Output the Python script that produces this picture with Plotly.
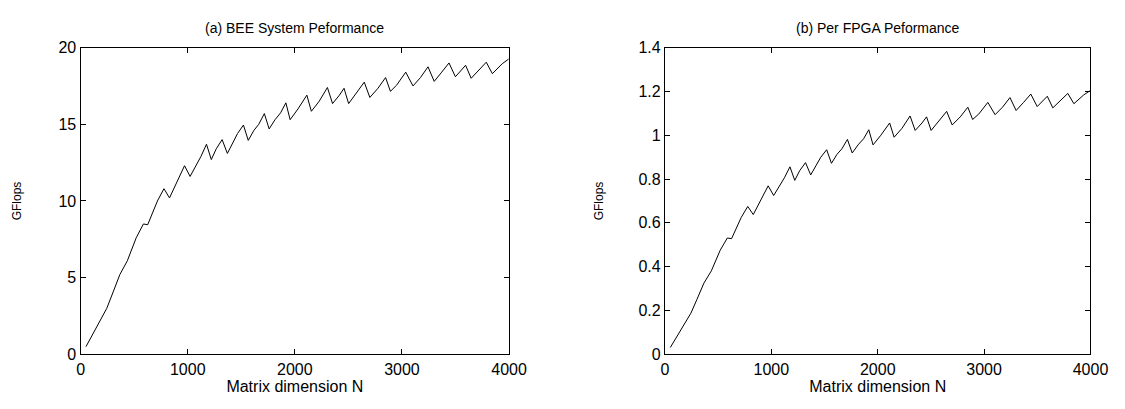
import plotly.graph_objects as go

N = [50, 110, 174, 244, 300, 366, 436, 480, 519, 586, 626, 717, 778, 830, 900, 970,
     1022, 1075, 1123, 1175, 1220, 1266, 1321, 1370, 1420, 1465, 1520, 1565, 1617,
     1663, 1715, 1760, 1815, 1867, 1916, 1956, 2029, 2112, 2154, 2227, 2304, 2352,
     2416, 2459, 2502, 2578, 2648, 2700, 2776, 2847, 2892, 2950, 3035, 3103, 3173,
     3243, 3301, 3371, 3439, 3499, 3594, 3646, 3716, 3787, 3844, 3936, 3995]

bee_gflops = [0.5, 1.3, 2.1, 3.0, 4.0, 5.2, 6.1, 6.9, 7.6, 8.5, 8.45, 10.0, 10.8, 10.2,
              11.3, 12.3, 11.6, 12.3, 12.9, 13.7, 12.7, 13.4, 14.0, 13.1, 13.8, 14.4,
              14.95, 13.95, 14.6, 15.0, 15.7, 14.7, 15.3, 15.75, 16.4, 15.3, 16.0, 16.9,
              15.85, 16.5, 17.4, 16.35, 16.9, 17.35, 16.35, 17.1, 17.75, 16.75, 17.35,
              18.05, 17.15, 17.55, 18.4, 17.5, 18.05, 18.75, 17.8, 18.4, 19.0, 18.1,
              18.85, 18.0, 18.5, 19.05, 18.3, 18.95, 19.25]

fpga_gflops = [0.031, 0.081, 0.131, 0.188, 0.25, 0.325, 0.381, 0.431, 0.475, 0.531,
               0.528, 0.625, 0.675, 0.638, 0.706, 0.769, 0.725, 0.769, 0.806, 0.856,
               0.794, 0.838, 0.875, 0.819, 0.863, 0.9, 0.934, 0.872, 0.913, 0.938,
               0.981, 0.919, 0.956, 0.984, 1.025, 0.956, 1.0, 1.056, 0.991, 1.031,
               1.088, 1.022, 1.056, 1.084, 1.022, 1.069, 1.109, 1.047, 1.084, 1.128,
               1.072, 1.097, 1.15, 1.094, 1.128, 1.172, 1.113, 1.15, 1.188, 1.131,
               1.178, 1.125, 1.156, 1.191, 1.144, 1.184, 1.203]

x_ticks = [0, 1000, 2000, 3000, 4000]
y1_ticks = [0, 5, 10, 15, 20]
y2_ticks = [0, 0.2, 0.4, 0.6, 0.8, 1.0, 1.2, 1.4]
y2_labels = ["0", "0.2", "0.4", "0.6", "0.8", "1", "1.2", "1.4"]

W, H = 1125, 409
FONT = "Liberation Sans, Arial, sans-serif"

fig = go.Figure()
fig.add_trace(go.Scatter(x=N, y=bee_gflops, mode="lines", xaxis="x", yaxis="y",
                         line=dict(color="black", width=1), showlegend=False))
fig.add_trace(go.Scatter(x=N, y=fpga_gflops, mode="lines", xaxis="x2", yaxis="y2",
                         line=dict(color="black", width=1), showlegend=False))

ydom = [(H - 353) / H, (H - 33) / H]
axis_common = dict(showline=True, linecolor="black", linewidth=1.3, mirror="ticks",
                   ticks="inside", ticklen=5, tickcolor="black", showgrid=False,
                   zeroline=False, tickfont=dict(family=FONT, size=16, color="black"))

fig.update_layout(
    width=W, height=H,
    margin=dict(l=0, r=0, t=0, b=0),
    paper_bgcolor="white", plot_bgcolor="white",
    font=dict(family=FONT, color="black"),
    xaxis=dict(domain=[70 / W, 507 / W], range=[0, 4000], tickvals=x_ticks,
               title=dict(text="Matrix dimension N", font=dict(size=16), standoff=0),
               anchor="y", **axis_common),
    yaxis=dict(domain=ydom, range=[0, 20], tickvals=y1_ticks,
               title=dict(text="GFlops", font=dict(size=12), standoff=34),
               anchor="x", **axis_common),
    xaxis2=dict(domain=[666 / W, 1100 / W], range=[0, 4000], tickvals=x_ticks,
                title=dict(text="Matrix dimension N", font=dict(size=16), standoff=0),
                anchor="y2", **axis_common),
    yaxis2=dict(domain=ydom, range=[0, 1.4], tickvals=y2_ticks, ticktext=y2_labels,
                title=dict(text="GFlops", font=dict(size=12), standoff=32),
                anchor="x2", **axis_common),
    annotations=[
        dict(text="(a) BEE System Peformance", x=(70 + 507) / 2 / W, y=(H - 12) / H,
             xref="paper", yref="paper", showarrow=False, xanchor="center",
             yanchor="middle", font=dict(size=14, family=FONT, color="black")),
        dict(text="(b) Per FPGA Peformance", x=(666 + 1100) / 2 / W, y=(H - 12) / H,
             xref="paper", yref="paper", showarrow=False, xanchor="center",
             yanchor="middle", font=dict(size=14, family=FONT, color="black")),
    ],
)

fig.write_html("out.html")
